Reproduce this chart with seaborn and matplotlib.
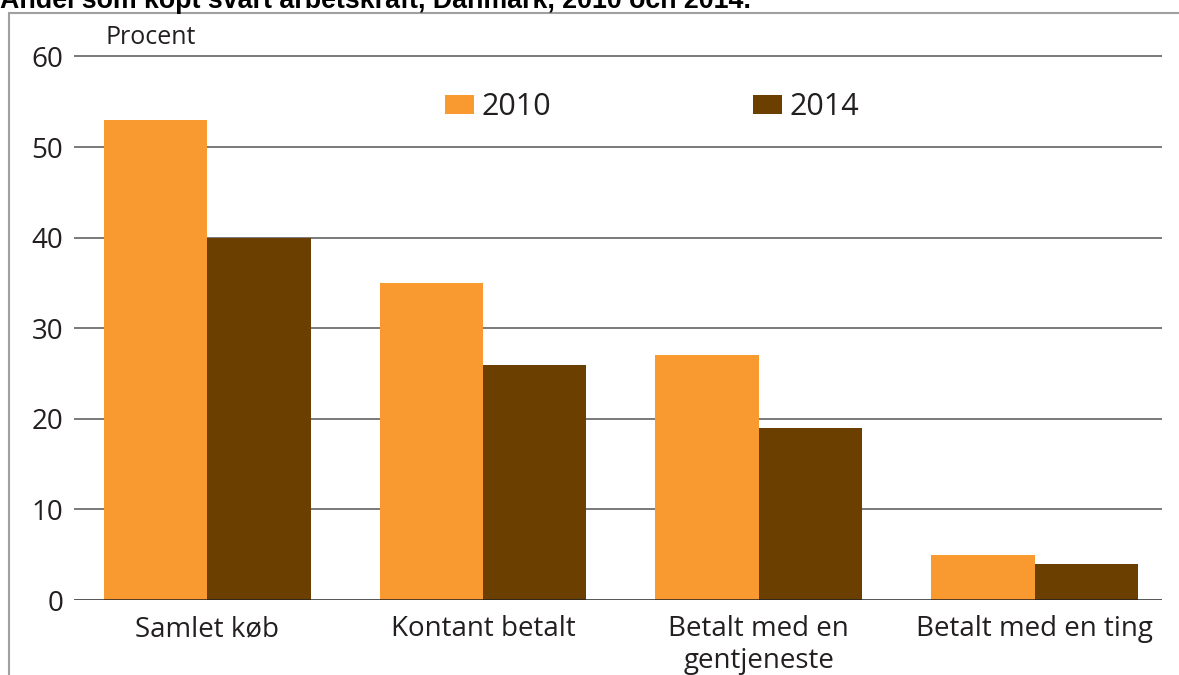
import pandas as pd
import matplotlib.pyplot as plt
import seaborn as sns
from matplotlib.lines import Line2D

# data
categories = ['Samlet køb', 'Kontant betalt', 'Betalt med en\ngentjeneste', 'Betalt med en ting']
years = ['2010', '2014']
values_2010 = [53, 35, 27, 5]
values_2014 = [40, 26, 19, 4]

df = pd.DataFrame({
    'kategori': categories * 2,
    'aar': [years[0]] * 4 + [years[1]] * 4,
    'procent': values_2010 + values_2014,
})

text_col = '#231F20'
colors = {'2010': '#F89A30', '2014': '#6A3F00'}

sns.set_theme(style='white')
plt.rcParams['font.family'] = ['Open Sans', 'DejaVu Sans']

fig = plt.figure(figsize=(11.79, 6.75), dpi=100)
ax = fig.add_axes([0.063, 0.111, 0.923, 0.808])

sns.barplot(data=df, x='kategori', y='procent', hue='aar', palette=colors,
            width=0.75, saturation=1, ax=ax, edgecolor='none', linewidth=0)

ax.set_ylim(0, 60.2)
ax.set_xlim(-0.482, 3.464)
ax.set_yticks([0, 10, 20, 30, 40, 50, 60])
for yv in [10, 20, 30, 40, 50, 60]:
    ax.axhline(yv, color='#555555', lw=1.1, zorder=0)
ax.axhline(0, color='#222222', lw=1.8, zorder=3)

for s in ax.spines.values():
    s.set_visible(False)
ax.tick_params(axis='both', length=0, labelsize=20, colors=text_col)
ax.tick_params(axis='y', pad=8)
ax.tick_params(axis='x', pad=11)
ax.set_xlabel('')
ax.set_ylabel('')
for lab in ax.get_xticklabels():
    lab.set_linespacing(1.15)
    lab.set_verticalalignment('top')

fig.text(105 / 1179, 1 - 50 / 675, 'Procent', fontsize=18, color=text_col,
         va='bottom', ha='left')

ax.legend(loc='center', bbox_to_anchor=(652 / 1179, 1 - 107 / 675),
          bbox_transform=fig.transFigure, ncol=2, frameon=False,
          fontsize=22, handlelength=0.95, handleheight=0.6,
          handletextpad=0.25, columnspacing=6.6, labelcolor=text_col)

# frame around the figure (top and left edges visible)
fig.add_artist(Line2D([9 / 1179, 1], [1 - 13 / 675, 1 - 13 / 675],
                      transform=fig.transFigure, color='#A0A0A0', lw=1.5))
fig.add_artist(Line2D([9 / 1179, 9 / 1179], [0, 1 - 13 / 675],
                      transform=fig.transFigure, color='#A0A0A0', lw=1.5))

fig.text(0.0, 1 - 8 / 675, 'Andel som köpt svart arbetskraft, Danmark, 2010 och 2014.',
         family=['Liberation Sans', 'DejaVu Sans'], fontweight='bold', fontsize=19.3,
         color='black', ha='left', va='baseline')

fig.savefig('out.png', dpi=100)
